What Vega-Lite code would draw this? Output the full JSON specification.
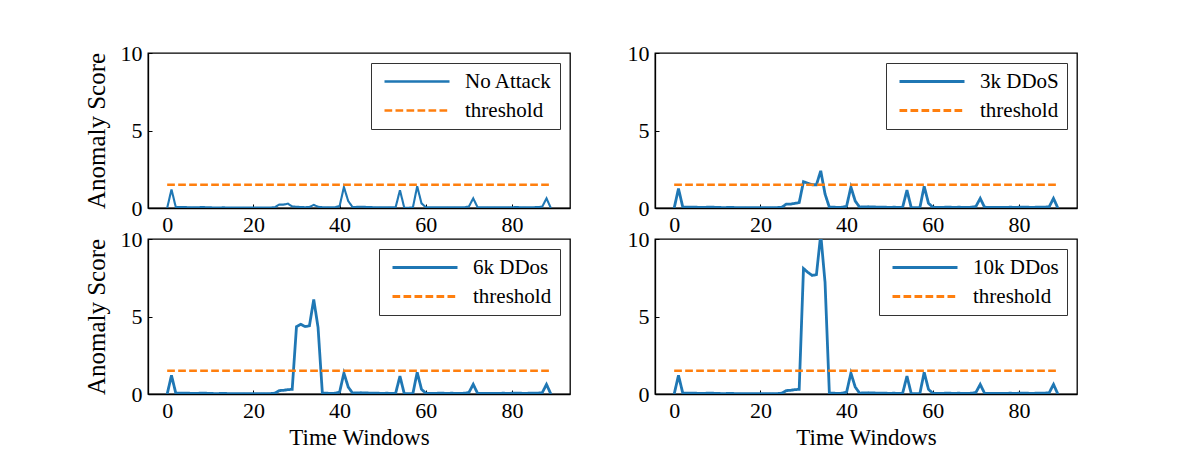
{
  "$schema": "https://vega.github.io/schema/vega-lite/v6.json",
  "background": "white",
  "padding": {"left": 83, "top": 41, "right": 5, "bottom": 0},
  "columns": 2,
  "spacing": {"row": 31, "column": 85},
  "bounds": "flush",
  "resolve": {"scale": {"color": "independent", "strokeDash": "independent"}, "legend": {"color": "independent", "strokeDash": "independent"}},
  "config": {
    "view": {"stroke": "black", "strokeWidth": 1.3},
    "font": "Liberation Serif",
    "axis": {"grid": false, "domainColor": "black", "domainWidth": 1.3, "tickColor": "black", "tickSize": -4, "tickWidth": 1, "labelFont": "Liberation Serif", "labelFontSize": 22, "labelColor": "black", "labelPadding": 10, "titleFont": "Liberation Serif", "titleFontSize": 25, "titleFontWeight": "normal", "titleColor": "black", "titlePadding": 11, "labelFlush": false, "labelOverlap": false},
    "axisX": {"titlePadding": 5, "titleFontSize": 23},
    "legend": {"orient": "top-right", "offset": 10, "title": null, "labelFont": "Liberation Serif", "labelFontSize": 21, "labelColor": "black", "symbolType": "M-1,0H12", "symbolSize": 100, "symbolStrokeWidth": 2.8, "labelOffset": 65, "padding": 8, "rowPadding": 7, "strokeColor": "#333333", "fillColor": "white", "cornerRadius": 0}
  },
  "datasets": {
    "noattack": [
{"t":0,"score":0.0,"series":"No Attack"},{"t":1,"score":1.2,"series":"No Attack"},{"t":2,"score":0.05,"series":"No Attack"},{"t":3,"score":0.06,"series":"No Attack"},{"t":4,"score":0.06,"series":"No Attack"},{"t":5,"score":0.05,"series":"No Attack"},{"t":6,"score":0.04,"series":"No Attack"},{"t":7,"score":0.04,"series":"No Attack"},{"t":8,"score":0.06,"series":"No Attack"},{"t":9,"score":0.05,"series":"No Attack"},
{"t":10,"score":0.04,"series":"No Attack"},{"t":11,"score":0.03,"series":"No Attack"},{"t":12,"score":0.03,"series":"No Attack"},{"t":13,"score":0.04,"series":"No Attack"},{"t":14,"score":0.03,"series":"No Attack"},{"t":15,"score":0.03,"series":"No Attack"},{"t":16,"score":0.03,"series":"No Attack"},{"t":17,"score":0.03,"series":"No Attack"},{"t":18,"score":0.03,"series":"No Attack"},{"t":19,"score":0.03,"series":"No Attack"},
{"t":20,"score":0.03,"series":"No Attack"},{"t":21,"score":0.03,"series":"No Attack"},{"t":22,"score":0.03,"series":"No Attack"},{"t":23,"score":0.03,"series":"No Attack"},{"t":24,"score":0.03,"series":"No Attack"},{"t":25,"score":0.05,"series":"No Attack"},{"t":26,"score":0.22,"series":"No Attack"},{"t":27,"score":0.22,"series":"No Attack"},{"t":28,"score":0.28,"series":"No Attack"},{"t":29,"score":0.1,"series":"No Attack"},
{"t":30,"score":0.08,"series":"No Attack"},{"t":31,"score":0.06,"series":"No Attack"},{"t":32,"score":0.05,"series":"No Attack"},{"t":33,"score":0.06,"series":"No Attack"},{"t":34,"score":0.2,"series":"No Attack"},{"t":35,"score":0.08,"series":"No Attack"},{"t":36,"score":0.05,"series":"No Attack"},{"t":37,"score":0.05,"series":"No Attack"},{"t":38,"score":0.04,"series":"No Attack"},{"t":39,"score":0.05,"series":"No Attack"},
{"t":40,"score":0.12,"series":"No Attack"},{"t":41,"score":1.35,"series":"No Attack"},{"t":42,"score":0.45,"series":"No Attack"},{"t":43,"score":0.06,"series":"No Attack"},{"t":44,"score":0.07,"series":"No Attack"},{"t":45,"score":0.08,"series":"No Attack"},{"t":46,"score":0.07,"series":"No Attack"},{"t":47,"score":0.06,"series":"No Attack"},{"t":48,"score":0.05,"series":"No Attack"},{"t":49,"score":0.05,"series":"No Attack"},
{"t":50,"score":0.04,"series":"No Attack"},{"t":51,"score":0.05,"series":"No Attack"},{"t":52,"score":0.04,"series":"No Attack"},{"t":53,"score":0.05,"series":"No Attack"},{"t":54,"score":1.15,"series":"No Attack"},{"t":55,"score":0.02,"series":"No Attack"},{"t":56,"score":0.02,"series":"No Attack"},{"t":57,"score":0.03,"series":"No Attack"},{"t":58,"score":1.4,"series":"No Attack"},{"t":59,"score":0.3,"series":"No Attack"},
{"t":60,"score":0.05,"series":"No Attack"},{"t":61,"score":0.04,"series":"No Attack"},{"t":62,"score":0.04,"series":"No Attack"},{"t":63,"score":0.05,"series":"No Attack"},{"t":64,"score":0.05,"series":"No Attack"},{"t":65,"score":0.04,"series":"No Attack"},{"t":66,"score":0.05,"series":"No Attack"},{"t":67,"score":0.04,"series":"No Attack"},{"t":68,"score":0.04,"series":"No Attack"},{"t":69,"score":0.05,"series":"No Attack"},
{"t":70,"score":0.1,"series":"No Attack"},{"t":71,"score":0.62,"series":"No Attack"},{"t":72,"score":0.05,"series":"No Attack"},{"t":73,"score":0.04,"series":"No Attack"},{"t":74,"score":0.04,"series":"No Attack"},{"t":75,"score":0.04,"series":"No Attack"},{"t":76,"score":0.04,"series":"No Attack"},{"t":77,"score":0.04,"series":"No Attack"},{"t":78,"score":0.05,"series":"No Attack"},{"t":79,"score":0.04,"series":"No Attack"},
{"t":80,"score":0.05,"series":"No Attack"},{"t":81,"score":0.06,"series":"No Attack"},{"t":82,"score":0.05,"series":"No Attack"},{"t":83,"score":0.04,"series":"No Attack"},{"t":84,"score":0.05,"series":"No Attack"},{"t":85,"score":0.05,"series":"No Attack"},{"t":86,"score":0.06,"series":"No Attack"},{"t":87,"score":0.08,"series":"No Attack"},{"t":88,"score":0.62,"series":"No Attack"},{"t":89,"score":0.0,"series":"No Attack"},
{"t":0,"score":1.5,"series":"threshold"},{"t":89,"score":1.5,"series":"threshold"}
    ],
    "ddos3k": [
{"t":0,"score":0.0,"series":"3k DDoS"},{"t":1,"score":1.25,"series":"3k DDoS"},{"t":2,"score":0.05,"series":"3k DDoS"},{"t":3,"score":0.06,"series":"3k DDoS"},{"t":4,"score":0.06,"series":"3k DDoS"},{"t":5,"score":0.05,"series":"3k DDoS"},{"t":6,"score":0.04,"series":"3k DDoS"},{"t":7,"score":0.04,"series":"3k DDoS"},{"t":8,"score":0.06,"series":"3k DDoS"},{"t":9,"score":0.05,"series":"3k DDoS"},
{"t":10,"score":0.04,"series":"3k DDoS"},{"t":11,"score":0.03,"series":"3k DDoS"},{"t":12,"score":0.03,"series":"3k DDoS"},{"t":13,"score":0.04,"series":"3k DDoS"},{"t":14,"score":0.03,"series":"3k DDoS"},{"t":15,"score":0.03,"series":"3k DDoS"},{"t":16,"score":0.03,"series":"3k DDoS"},{"t":17,"score":0.03,"series":"3k DDoS"},{"t":18,"score":0.03,"series":"3k DDoS"},{"t":19,"score":0.03,"series":"3k DDoS"},
{"t":20,"score":0.03,"series":"3k DDoS"},{"t":21,"score":0.03,"series":"3k DDoS"},{"t":22,"score":0.03,"series":"3k DDoS"},{"t":23,"score":0.03,"series":"3k DDoS"},{"t":24,"score":0.03,"series":"3k DDoS"},{"t":25,"score":0.05,"series":"3k DDoS"},{"t":26,"score":0.25,"series":"3k DDoS"},{"t":27,"score":0.25,"series":"3k DDoS"},{"t":28,"score":0.3,"series":"3k DDoS"},{"t":29,"score":0.35,"series":"3k DDoS"},
{"t":30,"score":1.7,"series":"3k DDoS"},{"t":31,"score":1.6,"series":"3k DDoS"},{"t":32,"score":1.5,"series":"3k DDoS"},{"t":33,"score":1.5,"series":"3k DDoS"},{"t":34,"score":2.4,"series":"3k DDoS"},{"t":35,"score":0.9,"series":"3k DDoS"},{"t":36,"score":0.05,"series":"3k DDoS"},{"t":37,"score":0.05,"series":"3k DDoS"},{"t":38,"score":0.04,"series":"3k DDoS"},{"t":39,"score":0.05,"series":"3k DDoS"},
{"t":40,"score":0.12,"series":"3k DDoS"},{"t":41,"score":1.35,"series":"3k DDoS"},{"t":42,"score":0.45,"series":"3k DDoS"},{"t":43,"score":0.06,"series":"3k DDoS"},{"t":44,"score":0.07,"series":"3k DDoS"},{"t":45,"score":0.08,"series":"3k DDoS"},{"t":46,"score":0.07,"series":"3k DDoS"},{"t":47,"score":0.06,"series":"3k DDoS"},{"t":48,"score":0.05,"series":"3k DDoS"},{"t":49,"score":0.05,"series":"3k DDoS"},
{"t":50,"score":0.04,"series":"3k DDoS"},{"t":51,"score":0.05,"series":"3k DDoS"},{"t":52,"score":0.04,"series":"3k DDoS"},{"t":53,"score":0.05,"series":"3k DDoS"},{"t":54,"score":1.15,"series":"3k DDoS"},{"t":55,"score":0.02,"series":"3k DDoS"},{"t":56,"score":0.02,"series":"3k DDoS"},{"t":57,"score":0.03,"series":"3k DDoS"},{"t":58,"score":1.4,"series":"3k DDoS"},{"t":59,"score":0.3,"series":"3k DDoS"},
{"t":60,"score":0.05,"series":"3k DDoS"},{"t":61,"score":0.04,"series":"3k DDoS"},{"t":62,"score":0.04,"series":"3k DDoS"},{"t":63,"score":0.05,"series":"3k DDoS"},{"t":64,"score":0.05,"series":"3k DDoS"},{"t":65,"score":0.04,"series":"3k DDoS"},{"t":66,"score":0.05,"series":"3k DDoS"},{"t":67,"score":0.04,"series":"3k DDoS"},{"t":68,"score":0.04,"series":"3k DDoS"},{"t":69,"score":0.05,"series":"3k DDoS"},
{"t":70,"score":0.1,"series":"3k DDoS"},{"t":71,"score":0.62,"series":"3k DDoS"},{"t":72,"score":0.05,"series":"3k DDoS"},{"t":73,"score":0.04,"series":"3k DDoS"},{"t":74,"score":0.04,"series":"3k DDoS"},{"t":75,"score":0.04,"series":"3k DDoS"},{"t":76,"score":0.04,"series":"3k DDoS"},{"t":77,"score":0.04,"series":"3k DDoS"},{"t":78,"score":0.05,"series":"3k DDoS"},{"t":79,"score":0.04,"series":"3k DDoS"},
{"t":80,"score":0.05,"series":"3k DDoS"},{"t":81,"score":0.06,"series":"3k DDoS"},{"t":82,"score":0.05,"series":"3k DDoS"},{"t":83,"score":0.04,"series":"3k DDoS"},{"t":84,"score":0.05,"series":"3k DDoS"},{"t":85,"score":0.05,"series":"3k DDoS"},{"t":86,"score":0.06,"series":"3k DDoS"},{"t":87,"score":0.08,"series":"3k DDoS"},{"t":88,"score":0.62,"series":"3k DDoS"},{"t":89,"score":0.0,"series":"3k DDoS"},
{"t":0,"score":1.5,"series":"threshold"},{"t":89,"score":1.5,"series":"threshold"}
    ],
    "ddos6k": [
{"t":0,"score":0.0,"series":"6k DDos"},{"t":1,"score":1.2,"series":"6k DDos"},{"t":2,"score":0.05,"series":"6k DDos"},{"t":3,"score":0.06,"series":"6k DDos"},{"t":4,"score":0.06,"series":"6k DDos"},{"t":5,"score":0.05,"series":"6k DDos"},{"t":6,"score":0.04,"series":"6k DDos"},{"t":7,"score":0.04,"series":"6k DDos"},{"t":8,"score":0.06,"series":"6k DDos"},{"t":9,"score":0.05,"series":"6k DDos"},
{"t":10,"score":0.04,"series":"6k DDos"},{"t":11,"score":0.03,"series":"6k DDos"},{"t":12,"score":0.03,"series":"6k DDos"},{"t":13,"score":0.04,"series":"6k DDos"},{"t":14,"score":0.03,"series":"6k DDos"},{"t":15,"score":0.03,"series":"6k DDos"},{"t":16,"score":0.03,"series":"6k DDos"},{"t":17,"score":0.03,"series":"6k DDos"},{"t":18,"score":0.03,"series":"6k DDos"},{"t":19,"score":0.03,"series":"6k DDos"},
{"t":20,"score":0.03,"series":"6k DDos"},{"t":21,"score":0.03,"series":"6k DDos"},{"t":22,"score":0.03,"series":"6k DDos"},{"t":23,"score":0.03,"series":"6k DDos"},{"t":24,"score":0.03,"series":"6k DDos"},{"t":25,"score":0.05,"series":"6k DDos"},{"t":26,"score":0.22,"series":"6k DDos"},{"t":27,"score":0.24,"series":"6k DDos"},{"t":28,"score":0.28,"series":"6k DDos"},{"t":29,"score":0.3,"series":"6k DDos"},
{"t":30,"score":4.35,"series":"6k DDos"},{"t":31,"score":4.5,"series":"6k DDos"},{"t":32,"score":4.35,"series":"6k DDos"},{"t":33,"score":4.4,"series":"6k DDos"},{"t":34,"score":6.1,"series":"6k DDos"},{"t":35,"score":4.3,"series":"6k DDos"},{"t":36,"score":0.05,"series":"6k DDos"},{"t":37,"score":0.05,"series":"6k DDos"},{"t":38,"score":0.04,"series":"6k DDos"},{"t":39,"score":0.05,"series":"6k DDos"},
{"t":40,"score":0.12,"series":"6k DDos"},{"t":41,"score":1.35,"series":"6k DDos"},{"t":42,"score":0.45,"series":"6k DDos"},{"t":43,"score":0.06,"series":"6k DDos"},{"t":44,"score":0.07,"series":"6k DDos"},{"t":45,"score":0.08,"series":"6k DDos"},{"t":46,"score":0.07,"series":"6k DDos"},{"t":47,"score":0.06,"series":"6k DDos"},{"t":48,"score":0.05,"series":"6k DDos"},{"t":49,"score":0.05,"series":"6k DDos"},
{"t":50,"score":0.04,"series":"6k DDos"},{"t":51,"score":0.05,"series":"6k DDos"},{"t":52,"score":0.04,"series":"6k DDos"},{"t":53,"score":0.05,"series":"6k DDos"},{"t":54,"score":1.15,"series":"6k DDos"},{"t":55,"score":0.02,"series":"6k DDos"},{"t":56,"score":0.02,"series":"6k DDos"},{"t":57,"score":0.03,"series":"6k DDos"},{"t":58,"score":1.4,"series":"6k DDos"},{"t":59,"score":0.3,"series":"6k DDos"},
{"t":60,"score":0.05,"series":"6k DDos"},{"t":61,"score":0.04,"series":"6k DDos"},{"t":62,"score":0.04,"series":"6k DDos"},{"t":63,"score":0.05,"series":"6k DDos"},{"t":64,"score":0.05,"series":"6k DDos"},{"t":65,"score":0.04,"series":"6k DDos"},{"t":66,"score":0.05,"series":"6k DDos"},{"t":67,"score":0.04,"series":"6k DDos"},{"t":68,"score":0.04,"series":"6k DDos"},{"t":69,"score":0.05,"series":"6k DDos"},
{"t":70,"score":0.1,"series":"6k DDos"},{"t":71,"score":0.62,"series":"6k DDos"},{"t":72,"score":0.05,"series":"6k DDos"},{"t":73,"score":0.04,"series":"6k DDos"},{"t":74,"score":0.04,"series":"6k DDos"},{"t":75,"score":0.04,"series":"6k DDos"},{"t":76,"score":0.04,"series":"6k DDos"},{"t":77,"score":0.04,"series":"6k DDos"},{"t":78,"score":0.05,"series":"6k DDos"},{"t":79,"score":0.04,"series":"6k DDos"},
{"t":80,"score":0.05,"series":"6k DDos"},{"t":81,"score":0.06,"series":"6k DDos"},{"t":82,"score":0.05,"series":"6k DDos"},{"t":83,"score":0.04,"series":"6k DDos"},{"t":84,"score":0.05,"series":"6k DDos"},{"t":85,"score":0.05,"series":"6k DDos"},{"t":86,"score":0.06,"series":"6k DDos"},{"t":87,"score":0.08,"series":"6k DDos"},{"t":88,"score":0.62,"series":"6k DDos"},{"t":89,"score":0.0,"series":"6k DDos"},
{"t":0,"score":1.5,"series":"threshold"},{"t":89,"score":1.5,"series":"threshold"}
    ],
    "ddos10k": [
{"t":0,"score":0.0,"series":"10k DDos"},{"t":1,"score":1.2,"series":"10k DDos"},{"t":2,"score":0.05,"series":"10k DDos"},{"t":3,"score":0.06,"series":"10k DDos"},{"t":4,"score":0.06,"series":"10k DDos"},{"t":5,"score":0.05,"series":"10k DDos"},{"t":6,"score":0.04,"series":"10k DDos"},{"t":7,"score":0.04,"series":"10k DDos"},{"t":8,"score":0.06,"series":"10k DDos"},{"t":9,"score":0.05,"series":"10k DDos"},
{"t":10,"score":0.04,"series":"10k DDos"},{"t":11,"score":0.03,"series":"10k DDos"},{"t":12,"score":0.03,"series":"10k DDos"},{"t":13,"score":0.04,"series":"10k DDos"},{"t":14,"score":0.03,"series":"10k DDos"},{"t":15,"score":0.03,"series":"10k DDos"},{"t":16,"score":0.03,"series":"10k DDos"},{"t":17,"score":0.03,"series":"10k DDos"},{"t":18,"score":0.03,"series":"10k DDos"},{"t":19,"score":0.03,"series":"10k DDos"},
{"t":20,"score":0.03,"series":"10k DDos"},{"t":21,"score":0.03,"series":"10k DDos"},{"t":22,"score":0.03,"series":"10k DDos"},{"t":23,"score":0.03,"series":"10k DDos"},{"t":24,"score":0.03,"series":"10k DDos"},{"t":25,"score":0.05,"series":"10k DDos"},{"t":26,"score":0.22,"series":"10k DDos"},{"t":27,"score":0.24,"series":"10k DDos"},{"t":28,"score":0.28,"series":"10k DDos"},{"t":29,"score":0.3,"series":"10k DDos"},
{"t":30,"score":8.1,"series":"10k DDos"},{"t":31,"score":7.85,"series":"10k DDos"},{"t":32,"score":7.65,"series":"10k DDos"},{"t":33,"score":7.7,"series":"10k DDos"},{"t":34,"score":10.3,"series":"10k DDos"},{"t":35,"score":7.2,"series":"10k DDos"},{"t":36,"score":0.05,"series":"10k DDos"},{"t":37,"score":0.05,"series":"10k DDos"},{"t":38,"score":0.04,"series":"10k DDos"},{"t":39,"score":0.05,"series":"10k DDos"},
{"t":40,"score":0.12,"series":"10k DDos"},{"t":41,"score":1.35,"series":"10k DDos"},{"t":42,"score":0.45,"series":"10k DDos"},{"t":43,"score":0.06,"series":"10k DDos"},{"t":44,"score":0.07,"series":"10k DDos"},{"t":45,"score":0.08,"series":"10k DDos"},{"t":46,"score":0.07,"series":"10k DDos"},{"t":47,"score":0.06,"series":"10k DDos"},{"t":48,"score":0.05,"series":"10k DDos"},{"t":49,"score":0.05,"series":"10k DDos"},
{"t":50,"score":0.04,"series":"10k DDos"},{"t":51,"score":0.05,"series":"10k DDos"},{"t":52,"score":0.04,"series":"10k DDos"},{"t":53,"score":0.05,"series":"10k DDos"},{"t":54,"score":1.15,"series":"10k DDos"},{"t":55,"score":0.02,"series":"10k DDos"},{"t":56,"score":0.02,"series":"10k DDos"},{"t":57,"score":0.03,"series":"10k DDos"},{"t":58,"score":1.4,"series":"10k DDos"},{"t":59,"score":0.3,"series":"10k DDos"},
{"t":60,"score":0.05,"series":"10k DDos"},{"t":61,"score":0.04,"series":"10k DDos"},{"t":62,"score":0.04,"series":"10k DDos"},{"t":63,"score":0.05,"series":"10k DDos"},{"t":64,"score":0.05,"series":"10k DDos"},{"t":65,"score":0.04,"series":"10k DDos"},{"t":66,"score":0.05,"series":"10k DDos"},{"t":67,"score":0.04,"series":"10k DDos"},{"t":68,"score":0.04,"series":"10k DDos"},{"t":69,"score":0.05,"series":"10k DDos"},
{"t":70,"score":0.1,"series":"10k DDos"},{"t":71,"score":0.62,"series":"10k DDos"},{"t":72,"score":0.05,"series":"10k DDos"},{"t":73,"score":0.04,"series":"10k DDos"},{"t":74,"score":0.04,"series":"10k DDos"},{"t":75,"score":0.04,"series":"10k DDos"},{"t":76,"score":0.04,"series":"10k DDos"},{"t":77,"score":0.04,"series":"10k DDos"},{"t":78,"score":0.05,"series":"10k DDos"},{"t":79,"score":0.04,"series":"10k DDos"},
{"t":80,"score":0.05,"series":"10k DDos"},{"t":81,"score":0.06,"series":"10k DDos"},{"t":82,"score":0.05,"series":"10k DDos"},{"t":83,"score":0.04,"series":"10k DDos"},{"t":84,"score":0.05,"series":"10k DDos"},{"t":85,"score":0.05,"series":"10k DDos"},{"t":86,"score":0.06,"series":"10k DDos"},{"t":87,"score":0.08,"series":"10k DDos"},{"t":88,"score":0.62,"series":"10k DDos"},{"t":89,"score":0.0,"series":"10k DDos"},
{"t":0,"score":1.5,"series":"threshold"},{"t":89,"score":1.5,"series":"threshold"}
    ]
  },
  "concat": [
    {
      "width": 422, "height": 155,
      "data": {"name": "noattack"},
      "encoding": {
        "x": {"field": "t", "type": "quantitative", "scale": {"domain": [-4.45, 93.45], "nice": false, "zero": false}, "axis": {"values": [0, 20, 40, 60, 80], "title": null}},
        "y": {"field": "score", "type": "quantitative", "scale": {"domain": [0, 10], "nice": false}, "axis": {"values": [0, 5, 10], "title": "Anomaly Score"}},
        "color": {"field": "series", "type": "nominal", "scale": {"domain": ["No Attack", "threshold"], "range": ["#1f77b4", "#ff7f0e"]}, "legend": {"symbolStrokeWidth": 2.5}},
        "strokeDash": {"field": "series", "type": "nominal", "scale": {"domain": ["No Attack", "threshold"], "range": [[1, 0], [7.7, 3.3]]}, "legend": {"symbolStrokeWidth": 2.5}}
      },
      "layer": [
        {"transform": [{"filter": "datum.series !== 'threshold'"}], "mark": {"type": "line", "clip": true, "strokeWidth": 2.1}},
        {"transform": [{"filter": "datum.series === 'threshold'"}], "mark": {"type": "line", "clip": true, "strokeWidth": 2.3}}
      ]
    },
    {
      "width": 422, "height": 155,
      "data": {"name": "ddos3k"},
      "encoding": {
        "x": {"field": "t", "type": "quantitative", "scale": {"domain": [-4.45, 93.45], "nice": false, "zero": false}, "axis": {"values": [0, 20, 40, 60, 80], "title": null}},
        "y": {"field": "score", "type": "quantitative", "scale": {"domain": [0, 10], "nice": false}, "axis": {"values": [0, 5, 10], "title": null}},
        "color": {"field": "series", "type": "nominal", "scale": {"domain": ["3k DDoS", "threshold"], "range": ["#1f77b4", "#ff7f0e"]}},
        "strokeDash": {"field": "series", "type": "nominal", "scale": {"domain": ["3k DDoS", "threshold"], "range": [[1, 0], [7.7, 3.3]]}}
      },
      "layer": [
        {"transform": [{"filter": "datum.series !== 'threshold'"}], "mark": {"type": "line", "clip": true, "strokeWidth": 2.8}},
        {"transform": [{"filter": "datum.series === 'threshold'"}], "mark": {"type": "line", "clip": true, "strokeWidth": 2.3}}
      ]
    },
    {
      "width": 422, "height": 155,
      "data": {"name": "ddos6k"},
      "encoding": {
        "x": {"field": "t", "type": "quantitative", "scale": {"domain": [-4.45, 93.45], "nice": false, "zero": false}, "axis": {"values": [0, 20, 40, 60, 80], "title": "Time Windows"}},
        "y": {"field": "score", "type": "quantitative", "scale": {"domain": [0, 10], "nice": false}, "axis": {"values": [0, 5, 10], "title": "Anomaly Score"}},
        "color": {"field": "series", "type": "nominal", "scale": {"domain": ["6k DDos", "threshold"], "range": ["#1f77b4", "#ff7f0e"]}},
        "strokeDash": {"field": "series", "type": "nominal", "scale": {"domain": ["6k DDos", "threshold"], "range": [[1, 0], [7.7, 3.3]]}}
      },
      "layer": [
        {"transform": [{"filter": "datum.series !== 'threshold'"}], "mark": {"type": "line", "clip": true, "strokeWidth": 2.8}},
        {"transform": [{"filter": "datum.series === 'threshold'"}], "mark": {"type": "line", "clip": true, "strokeWidth": 2.3}}
      ]
    },
    {
      "width": 422, "height": 155,
      "data": {"name": "ddos10k"},
      "encoding": {
        "x": {"field": "t", "type": "quantitative", "scale": {"domain": [-4.45, 93.45], "nice": false, "zero": false}, "axis": {"values": [0, 20, 40, 60, 80], "title": "Time Windows"}},
        "y": {"field": "score", "type": "quantitative", "scale": {"domain": [0, 10], "nice": false}, "axis": {"values": [0, 5, 10], "title": null}},
        "color": {"field": "series", "type": "nominal", "scale": {"domain": ["10k DDos", "threshold"], "range": ["#1f77b4", "#ff7f0e"]}},
        "strokeDash": {"field": "series", "type": "nominal", "scale": {"domain": ["10k DDos", "threshold"], "range": [[1, 0], [7.7, 3.3]]}}
      },
      "layer": [
        {"transform": [{"filter": "datum.series !== 'threshold'"}], "mark": {"type": "line", "clip": true, "strokeWidth": 2.8}},
        {"transform": [{"filter": "datum.series === 'threshold'"}], "mark": {"type": "line", "clip": true, "strokeWidth": 2.3}}
      ]
    }
  ]
}
